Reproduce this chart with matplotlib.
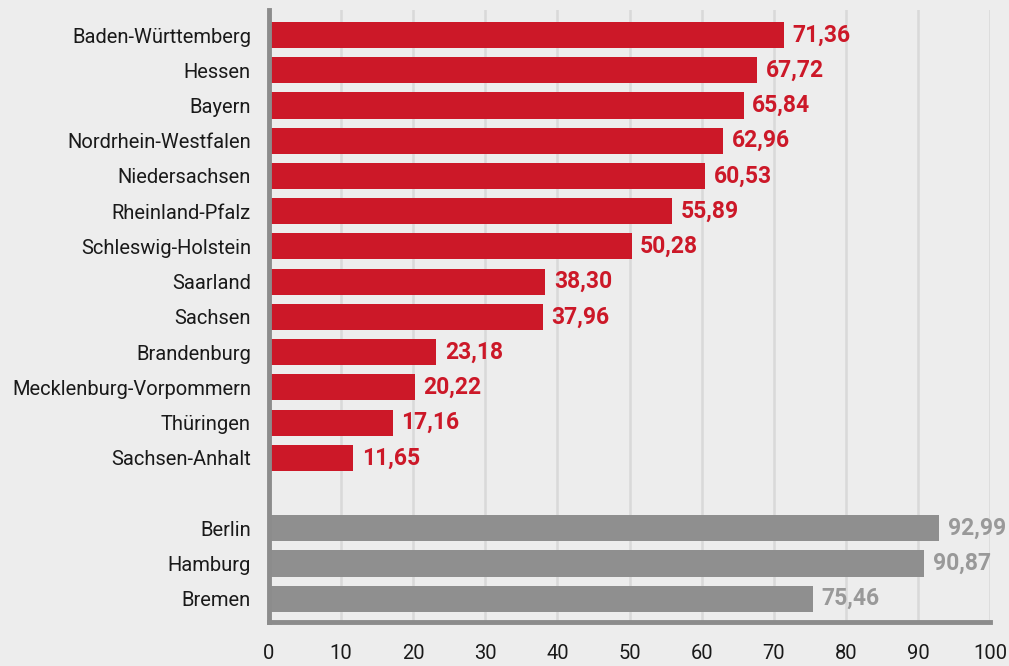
import matplotlib
matplotlib.use("Agg")
import matplotlib.pyplot as plt
import numpy as np

# Flächenländer and Stadtstaaten
laender = ["Baden-Württemberg", "Hessen", "Bayern", "Nordrhein-Westfalen",
           "Niedersachsen", "Rheinland-Pfalz", "Schleswig-Holstein", "Saarland",
           "Sachsen", "Brandenburg", "Mecklenburg-Vorpommern", "Thüringen",
           "Sachsen-Anhalt"]
werte_laender = [71.36, 67.72, 65.84, 62.96, 60.53, 55.89, 50.28, 38.30,
                 37.96, 23.18, 20.22, 17.16, 11.65]
staedte = ["Berlin", "Hamburg", "Bremen"]
werte_staedte = [92.99, 90.87, 75.46]
xticks = [0, 10, 20, 30, 40, 50, 60, 70, 80, 90, 100]

ROT = "#cc1828"
GRAU = "#8f8f8f"
GRAU_TXT = "#999999"
BG = "#ededed"

plt.rcParams["font.family"] = ["Roboto", "DejaVu Sans"]

fig = plt.figure(figsize=(10.09, 6.66), dpi=100, facecolor=BG)
ax = fig.add_axes([269 / 1009, 1 - 622 / 666, (990 - 269) / 1009, (622 - 10) / 666])
ax.set_facecolor(BG)

pos_l = np.arange(len(laender))
pos_s = np.arange(len(staedte)) + len(laender) + 1

ax.barh(pos_l, werte_laender, height=0.74, color=ROT, zorder=3)
ax.barh(pos_s, werte_staedte, height=0.74, color=GRAU, zorder=3)

def fmt(v):
    return f"{v:.2f}".replace(".", ",")

for p, v in zip(pos_l, werte_laender):
    ax.text(v + 1.2, p, fmt(v), va="center", ha="left", color=ROT,
            fontsize=16.5, fontweight="bold", zorder=4)
for p, v in zip(pos_s, werte_staedte):
    ax.text(v + 1.2, p, fmt(v), va="center", ha="left", color=GRAU_TXT,
            fontsize=16.5, fontweight="bold", zorder=4, clip_on=False)

ax.set_yticks(list(pos_l) + list(pos_s))
ax.set_yticklabels(laender + staedte, fontsize=14.5, color="#1a1a1a")
ax.set_ylim(16.66, -0.71)
ax.set_xlim(0, 100)
ax.set_xticks(xticks)
ax.set_xticklabels([str(t) for t in xticks], fontsize=14.5, color="#1a1a1a")
ax.tick_params(axis="both", length=0)
ax.tick_params(axis="x", pad=16)
ax.tick_params(axis="y", pad=13)

ax.grid(axis="x", color="#d9d9d9", linewidth=1.8, zorder=0)
for s in ["top", "right"]:
    ax.spines[s].set_visible(False)
for s in ["left", "bottom"]:
    ax.spines[s].set_color("#8c8c8c")
    ax.spines[s].set_linewidth(3.5)
    ax.spines[s].set_zorder(5)

fig.savefig("out.png", dpi=100, facecolor=BG)
